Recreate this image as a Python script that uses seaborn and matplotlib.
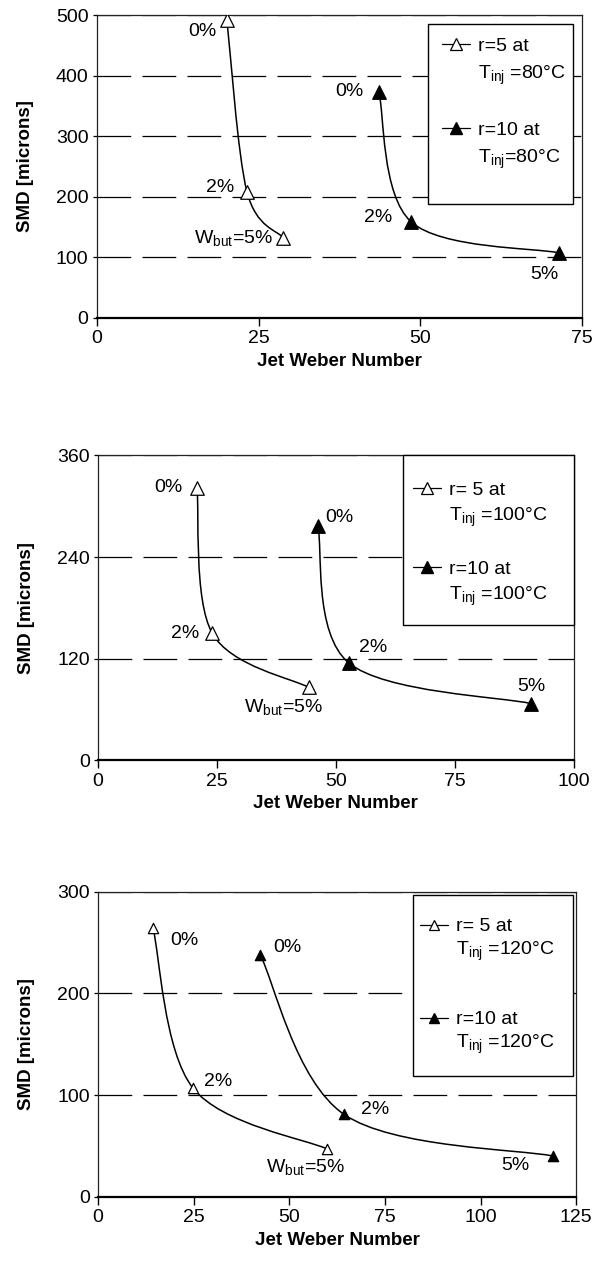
import numpy as np
import pandas as pd
import matplotlib.pyplot as plt
import seaborn as sns
from matplotlib.path import Path
from matplotlib.patches import PathPatch, Rectangle
from matplotlib.lines import Line2D

# data: jet Weber number vs SMD, butanol 0%, 2%, 5%
we5_80 = [20.1, 23.2, 28.8]
smd5_80 = [492, 208, 132]
we10_80 = [43.6, 48.6, 71.4]
smd10_80 = [373, 158, 107]

we5_100 = [20.8, 24.0, 44.3]
smd5_100 = [322, 150, 86]
we10_100 = [46.2, 52.7, 91.0]
smd10_100 = [277, 115, 67]

we5_120 = [14.4, 24.8, 59.9]
smd5_120 = [264, 107, 47]
we10_120 = [42.4, 64.3, 119.0]
smd10_120 = [238, 81, 40]

pct5 = ['0%', '2%', 'W$_{but}$=5%']
pct10 = ['0%', '2%', '5%']

sns.set_style("ticks", {"xtick.direction": "out", "ytick.direction": "out"})
plt.rcParams['font.family'] = 'Liberation Sans'
plt.rcParams['mathtext.default'] = 'regular'
plt.rcParams['text.color'] = 'black'
plt.rcParams['axes.labelcolor'] = 'black'
plt.rcParams['xtick.color'] = 'black'
plt.rcParams['ytick.color'] = 'black'

FS = 14


def smooth_curve(ax, x, y):
    # excel-like smoothed line (catmull-rom bezier in screen space)
    pts = ax.transData.transform(np.column_stack([x, y]))
    n = len(pts)
    verts = [pts[0]]
    codes = [Path.MOVETO]
    for i in range(n - 1):
        p0 = pts[max(i - 1, 0)]
        p1 = pts[i]
        p2 = pts[i + 1]
        p3 = pts[min(i + 2, n - 1)]
        verts += [p1 + (p2 - p0) / 6, p2 - (p3 - p1) / 6, p2]
        codes += [Path.CURVE4] * 3
    verts = ax.transData.inverted().transform(np.array(verts))
    ax.add_patch(PathPatch(Path(verts, codes), fill=False, lw=1.1,
                           edgecolor='black', zorder=2))


def setup(ax, xmax, ymax, ystep, xstep):
    ax.set_xlim(0, xmax)
    ax.set_ylim(0, ymax)
    ax.set_xticks(np.arange(0, xmax + 1, xstep))
    ax.set_yticks(np.arange(0, ymax + 1, ystep))
    ax.yaxis.grid(True, color='black', lw=0.9, linestyle=(0, (27, 9)))
    ax.set_axisbelow(True)
    for s in ['top', 'right', 'left']:
        ax.spines[s].set_linewidth(0.9)
        ax.spines[s].set_color('#222222')
    ax.spines['bottom'].set_linewidth(1.6)
    ax.spines['bottom'].set_color('black')
    ax.tick_params(axis='x', length=6, width=1.0, labelsize=FS, pad=3)
    ax.tick_params(axis='y', length=3, width=0.9, labelsize=FS, pad=3)
    ax.set_xlabel('Jet Weber Number', fontsize=FS - 0.5, fontweight='bold',
                  labelpad=4)
    ax.set_ylabel('SMD [microns]', fontsize=FS - 0.5, fontweight='bold',
                  labelpad=16)


def series(ax, x, y, filled, size):
    df = pd.DataFrame({'we': x, 'smd': y})
    smooth_curve(ax, x, y)
    sns.scatterplot(data=df, x='we', y='smd', ax=ax, marker='^', s=size,
                    color='black' if filled else 'white', edgecolor='black',
                    linewidth=0.9, zorder=3, legend=False)


def labels(ax, x, y, texts, offsets, has=None):
    for i, (xi, yi, t, off) in enumerate(zip(x, y, texts, offsets)):
        ha = 'center'
        if has is not None:
            ha = has[i]
        ax.annotate(t, (xi, yi), xytext=off, textcoords='offset pixels',
                    ha=ha, va='center', fontsize=FS)


def legend(ax, temp1, temp2, frame, anchor, ms, spacing, nblank=1):
    # box drawn separately so the entries can sit where they do in the paper
    ax.add_patch(Rectangle(frame[:2], frame[2], frame[3], transform=ax.transAxes,
                           facecolor='white', edgecolor='black', lw=1.0,
                           zorder=4, clip_on=False))
    h5 = Line2D([0], [0], color='black', lw=0.9, marker='^', ms=ms,
                mfc='white', mec='black', mew=0.9)
    h10 = Line2D([0], [0], color='black', lw=0.9, marker='^', ms=ms,
                 mfc='black', mec='black')
    blank = Line2D([], [], linestyle='none')
    hs = [h5, blank] + [blank] * nblank + [h10, blank]
    ls = [temp1[0], temp1[1]] + [' '] * nblank + [temp2[0], temp2[1]]
    ax.legend(hs, ls, loc='upper left', bbox_to_anchor=anchor,
              borderaxespad=0, fontsize=FS, handlelength=1.45,
              handletextpad=0.4, labelspacing=spacing, borderpad=0,
              frameon=False)


fig = plt.figure(figsize=(5.94, 12.65), dpi=100)

# panel 1 : 80 C
ax1 = fig.add_axes([0.163, 0.749, 0.817, 0.239])
setup(ax1, 75, 500, 100, 25)
series(ax1, we5_80, smd5_80, False, 95)
series(ax1, we10_80, smd10_80, True, 95)
labels(ax1, we5_80, smd5_80, pct5, [(-25, -11), (-27, 4), (-10, 0)],
       ['center', 'center', 'right'])
labels(ax1, we10_80, smd10_80, pct10, [(-30, 0), (-33, 4), (-14, -22)])
legend(ax1, ['r=5 at', 'T$_{inj}$ =80°C'], ['r=10 at', 'T$_{inj}$=80°C'],
       (0.682, 0.376, 0.299, 0.594), (0.711, 0.928), 9, 0.45)

# panel 2 : 100 C
ax2 = fig.add_axes([0.165, 0.399, 0.801, 0.241])
setup(ax2, 100, 360, 120, 25)
series(ax2, we5_100, smd5_100, False, 95)
series(ax2, we10_100, smd10_100, True, 95)
labels(ax2, we5_100, smd5_100, pct5, [(-29, 0), (-27, 0), (14, -20)],
       ['center', 'center', 'right'])
labels(ax2, we10_100, smd10_100, pct10, [(22, 8), (24, 15), (0, 17)])
legend(ax2, ['r= 5 at', 'T$_{inj}$ =100°C'], ['r=10 at', 'T$_{inj}$ =100°C'],
       (0.641, 0.444, 0.359, 0.556), (0.662, 0.915), 9, 0.35)

# panel 3 : 120 C
ax3 = fig.add_axes([0.165, 0.054, 0.805, 0.241])
setup(ax3, 125, 300, 100, 25)
series(ax3, we5_120, smd5_120, False, 55)
series(ax3, we10_120, smd10_120, True, 55)
labels(ax3, we5_120, smd5_120, pct5, [(31, -12), (25, 6), (18, -18)],
       ['center', 'center', 'right'])
labels(ax3, we10_120, smd10_120, pct10, [(27, 7), (31, 5), (-38, -9)])
legend(ax3, ['r= 5 at', 'T$_{inj}$ =120°C'], ['r=10 at', 'T$_{inj}$ =120°C'],
       (0.659, 0.397, 0.335, 0.593), (0.674, 0.915), 7, 0.22, nblank=2)

fig.savefig('out.png', dpi=100)
